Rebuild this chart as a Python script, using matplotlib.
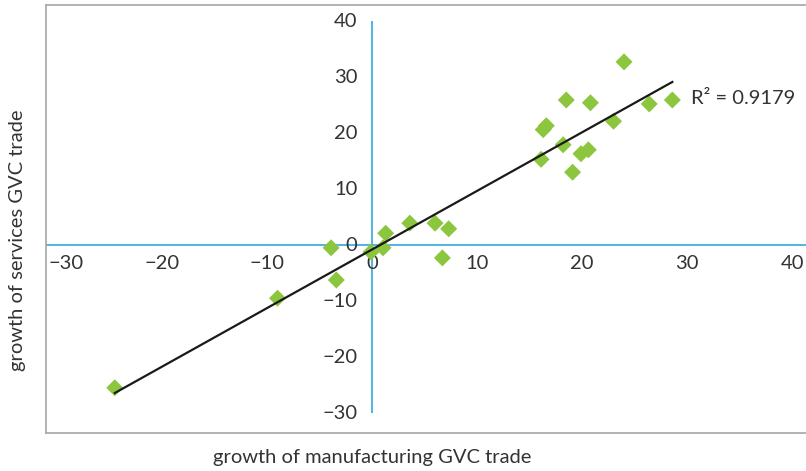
import matplotlib
matplotlib.use("Agg")
import matplotlib.pyplot as plt
import numpy as np

plt.rcParams['font.family'] = ['Lato', 'DejaVu Sans']

# growth of manufacturing vs services GVC trade, by economy (%)
manuf_growth = [-24.5, -9.0, -3.9, -3.4, -0.1, 1.05, 1.3, 3.6, 6.0, 7.3, 6.7,
                16.1, 16.3, 16.6, 18.2, 18.5, 19.1, 19.9, 20.6, 20.8, 23.0,
                24.0, 26.4, 28.6]
serv_growth = [-25.5, -9.5, -0.5, -6.25, -1.25, -0.5, 2.1, 3.9, 3.9, 2.9, -2.3,
               15.3, 20.6, 21.3, 17.9, 25.9, 13.0, 16.3, 17.0, 25.4, 22.1,
               32.7, 25.2, 25.9]
ticks = [-30, -20, -10, 0, 10, 20, 30, 40]
r2_label = "R\u00b2 = 0.9179"

green = '#8cc63f'
blue = '#1ea0d8'
grey = '#a6a6a6'
txt = '#333333'

W, H = 806, 471
fig = plt.figure(figsize=(W / 100, H / 100), dpi=100)
ax = fig.add_axes([46 / W, (H - 433) / H, (W - 46) / W, 428 / H])
ax.set_xlim(-31.05, 41.33)
ax.set_ylim(-33.57, 42.86)

for side in ['left', 'top', 'bottom']:
    ax.spines[side].set_color(grey)
    ax.spines[side].set_linewidth(1.2)
ax.spines['right'].set_visible(False)
ax.set_xticks([])
ax.set_yticks([])

# axes through the origin
ax.axhline(0, color=blue, lw=1.1, zorder=1)
ax.vlines(0, ticks[0], ticks[-1], color=blue, lw=1.1, zorder=1)

# tick labels next to the axes
fs = 14.5
for t in ticks:
    lab = str(t).replace('-', '\u2212')
    if t == ticks[0]:
        ax.text(-30.8, -1.8, lab, ha='left', va='top', fontsize=fs, color=txt)
    else:
        ax.text(t, -1.8, lab, ha='center', va='top', fontsize=fs, color=txt)
    ax.text(-1.4, t, lab, ha='right', va='center', fontsize=fs, color=txt)

x = np.array(manuf_growth)
y = np.array(serv_growth)
ax.scatter(x, y, marker='D', s=75, color=green, edgecolors='none', zorder=3)

# linear trend line
slope, icpt = np.polyfit(x, y, 1)
xx = np.array([x.min(), x.max()])
ax.plot(xx, slope * xx + icpt, color='#1a1a1a', lw=1.6, zorder=4)
ax.text(30.4, 26.2, r2_label, ha='left', va='center', fontsize=fs, color=txt)

fig.text(18 / W, 1 - 240 / H, 'growth of services GVC trade', rotation=90,
         ha='center', va='center', fontsize=fs, color=txt)
fig.text(372 / W, 1 - 458 / H, 'growth of manufacturing GVC trade',
         ha='center', va='center', fontsize=fs, color=txt)

fig.savefig('out.png', dpi=100)
